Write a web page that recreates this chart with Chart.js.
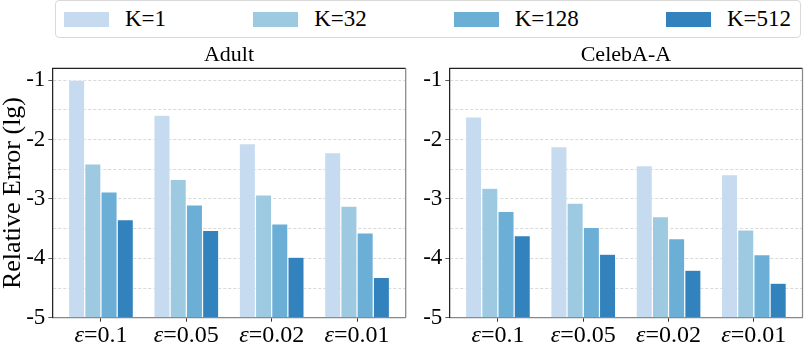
<!DOCTYPE html>
<html lang="en">
<head>
<meta charset="UTF-8">
<title>Relative Error (lg)</title>
<script src="https://cdn.jsdelivr.net/npm/chart.js"></script>
<style>
  body { margin: 0; background: #fff; font-family: 'Liberation Serif', serif; }
  #page { position: relative; width: 804px; height: 348px; overflow: hidden; }
  #legend {
    position: absolute; left: 55px; top: 0px; width: 746px; height: 38px;
    box-sizing: border-box; border: 1px solid #d9d9d9; border-radius: 4px;
    display: flex; justify-content: space-between; align-items: center;
    padding: 0 9px 0 8px;
  }
  .item { display: flex; align-items: center; font-family: 'Liberation Serif', serif; font-size: 23px; color: #000; }
  .swatch { width: 45px; height: 15px; margin-right: 16px; }
  canvas { position: absolute; top: 40px; }
</style>
</head>
<body>
<div id="page">
  <div id="legend"></div>
  <canvas id="adult" width="409" height="308" style="left:0px"></canvas>
  <canvas id="celeba" width="395" height="308" style="left:409px"></canvas>
</div>
<script>
// data
const epsLabels = ['0.1', '0.05', '0.02', '0.01'];
const kLabels = ['K=1', 'K=32', 'K=128', 'K=512'];
const kColors = ['#c6dbef', '#9ecae1', '#6baed6', '#3182bd'];
const yTickValues = [-5, -4, -3, -2, -1];

// Adult, one array per K (eps = 0.1, 0.05, 0.02, 0.01)
const adultK1   = [-1.00, -1.59, -2.07, -2.22];
const adultK32  = [-2.41, -2.67, -2.93, -3.12];
const adultK128 = [-2.88, -3.10, -3.42, -3.57];
const adultK512 = [-3.35, -3.53, -3.98, -4.32];

// CelebA-A
const celebK1   = [-1.62, -2.12, -2.44, -2.59];
const celebK32  = [-2.82, -3.07, -3.30, -3.52];
const celebK128 = [-3.21, -3.48, -3.67, -3.94];
const celebK512 = [-3.62, -3.93, -4.20, -4.42];

const FONT = "'Liberation Serif', serif";

// html legend
const legend = document.getElementById('legend');
kLabels.forEach((lab, i) => {
    const it = document.createElement('div');
    it.className = 'item';
    it.innerHTML = '<span class="swatch" style="background:' + kColors[i] + '"></span>' + lab;
    legend.appendChild(it);
});

// frame (top + right spines) and the epsilon tick labels with an italic ε
const framePlugin = {
    id: 'frame',
    afterDraw(chart) {
        const { ctx, chartArea: a, scales } = chart;
        ctx.save();
        ctx.lineWidth = 1.25;
        ctx.strokeStyle = '#222';
        ctx.beginPath();
        ctx.moveTo(a.left, a.top);
        ctx.lineTo(a.right, a.top);
        ctx.stroke();
        ctx.strokeStyle = '#888';
        ctx.beginPath();
        ctx.moveTo(a.right, a.top);
        ctx.lineTo(a.right, a.bottom);
        ctx.stroke();

        ctx.fillStyle = '#000';
        ctx.textBaseline = 'alphabetic';
        const italic = 'italic 24px ' + FONT;
        const normal = '24px ' + FONT;
        epsLabels.forEach((v, i) => {
            const cx = scales.x.getPixelForValue(i);
            ctx.font = italic;
            const w1 = ctx.measureText('ε').width;
            ctx.font = normal;
            const rest = '=' + v;
            const w2 = ctx.measureText(rest).width;
            const sx = cx - (w1 + w2) / 2;
            const y = a.bottom + 24;
            ctx.font = italic;
            ctx.fillText('ε', sx, y);
            ctx.font = normal;
            ctx.fillText(rest, sx + w1, y);
        });
        ctx.restore();
    }
};

function makeChart(id, title, series, yAxisWidth, rightPad, showYTitle) {
    const datasets = series.map((vals, k) => ({
        label: kLabels[k],
        data: vals.map((v, i) => ({ x: i, y: v })),
        backgroundColor: kColors[k],
        borderColor: '#ffffff',
        borderWidth: 0.6,
        base: -5
    }));

    return new Chart(document.getElementById(id), {
        type: 'bar',
        data: { datasets: datasets },
        options: {
            responsive: false,
            animation: false,
            devicePixelRatio: 1,
            categoryPercentage: 0.76,
            barPercentage: 1.0,
            layout: { padding: { left: 0, right: rightPad, top: 0, bottom: 0 } },
            plugins: {
                legend: { display: false },
                tooltip: { enabled: false },
                title: {
                    display: true,
                    text: title,
                    fullSize: false,
                    color: '#000',
                    font: { family: FONT, size: 22, weight: 'normal', lineHeight: 1.1 },
                    padding: { top: 3, bottom: 1.1 }
                }
            },
            scales: {
                x: {
                    type: 'linear',
                    offset: false,
                    min: -0.57,
                    max: 3.57,
                    afterBuildTicks: (s) => { s.ticks = epsLabels.map((_, i) => ({ value: i })); },
                    afterFit: (s) => { s.height = 30.3; },
                    ticks: { display: false },
                    grid: { offset: false, drawOnChartArea: false, drawTicks: true, tickLength: 4, tickColor: '#333', tickWidth: 1 },
                    border: { display: true, color: '#888', width: 1.25 }
                },
                y: {
                    min: -5,
                    max: -0.8,
                    afterBuildTicks: (s) => {
                        const t = [];
                        yTickValues.forEach((v, i) => {
                            t.push({ value: v });
                            if (i < yTickValues.length - 1) t.push({ value: v + 0.5 });
                        });
                        s.ticks = t;
                    },
                    afterFit: (s) => { s.width = yAxisWidth; },
                    ticks: {
                        color: '#000',
                        font: { family: FONT, size: 23 },
                        padding: 3,
                        callback: (v) => Number.isInteger(v) ? String(v) : ''
                    },
                    grid: {
                        color: (c) => (c.tick && c.tick.value === -5) ? 'rgba(0,0,0,0)' : '#cfcfcf',
                        lineWidth: 0.8,
                        tickLength: 4,
                        tickColor: (c) => (c.tick && Number.isInteger(c.tick.value)) ? '#333' : 'rgba(0,0,0,0)'
                    },
                    border: { display: true, color: '#222', width: 1.25, dash: [3, 2] },
                    title: {
                        display: showYTitle,
                        text: 'Relative Error (lg)',
                        color: '#000',
                        font: { family: FONT, size: 26, lineHeight: 1.0 },
                        padding: { top: 0, bottom: 0 }
                    }
                }
            }
        },
        plugins: [framePlugin]
    });
}

makeChart('adult', 'Adult', [adultK1, adultK32, adultK128, adultK512], 52.3, 3.3, true);
makeChart('celeba', 'CelebA-A', [celebK1, celebK32, celebK128, celebK512], 40.3, 1.5, false);
</script>
</body>
</html>
